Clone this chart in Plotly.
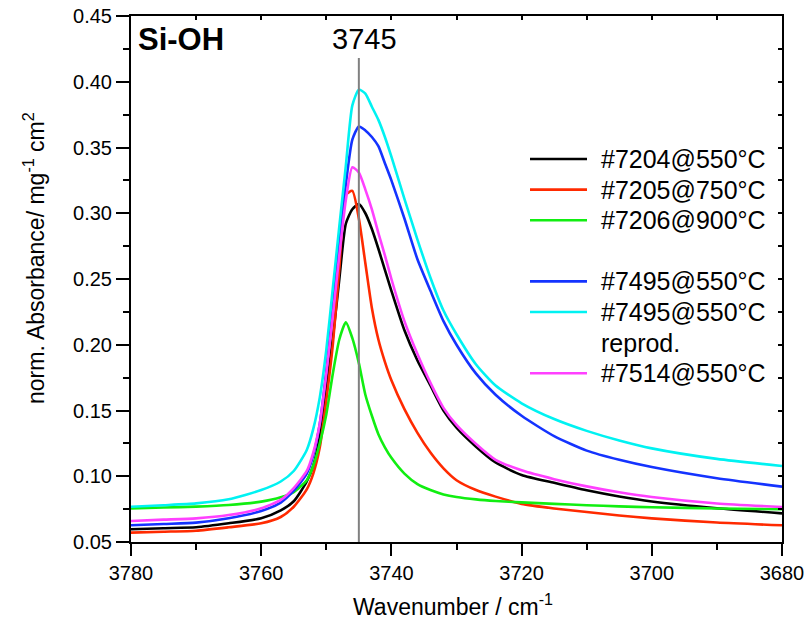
import plotly.graph_objects as go

# Si-OH stretching region, normalised absorbance
wavenumber = [3780, 3775, 3770, 3765, 3760, 3757, 3755, 3753, 3752, 3751,
              3750, 3749, 3748, 3747, 3746, 3745, 3744, 3743, 3742, 3741,
              3740, 3738, 3736, 3734, 3732, 3730, 3727, 3724, 3720, 3715,
              3710, 3705, 3700, 3690, 3680]

s7204_550 = [0.0597, 0.0605, 0.0612, 0.0642, 0.0680, 0.0740, 0.0810, 0.0960, 0.1080, 0.1300,
             0.1650, 0.2050, 0.2500, 0.2920, 0.3030, 0.3070, 0.3000, 0.2880, 0.2730, 0.2570,
             0.2410, 0.2110, 0.1880, 0.1690, 0.1500, 0.1370, 0.1225, 0.1105, 0.1010, 0.0950,
             0.0893, 0.0846, 0.0808, 0.0757, 0.0718]
s7205_750 = [0.0571, 0.0578, 0.0586, 0.0612, 0.0642, 0.0690, 0.0768, 0.0900, 0.1020, 0.1220,
             0.1580, 0.2000, 0.2580, 0.3140, 0.3170, 0.2960, 0.2620, 0.2280, 0.2040, 0.1870,
             0.1730, 0.1510, 0.1330, 0.1180, 0.1060, 0.0970, 0.0895, 0.0845, 0.0790, 0.0755,
             0.0728, 0.0702, 0.0680, 0.0648, 0.0627]
s7206_900 = [0.0756, 0.0762, 0.0769, 0.0781, 0.0807, 0.0840, 0.0880, 0.0970, 0.1080, 0.1250,
             0.1470, 0.1780, 0.2040, 0.2170, 0.2050, 0.1860, 0.1620, 0.1460, 0.1320, 0.1220,
             0.1140, 0.1020, 0.0940, 0.0895, 0.0862, 0.0842, 0.0824, 0.0812, 0.0801, 0.0790,
             0.0780, 0.0771, 0.0764, 0.0755, 0.0749]
s7495_550 = [0.0627, 0.0637, 0.0647, 0.0680, 0.0736, 0.0800, 0.0890, 0.1020, 0.1160, 0.1400,
             0.1800, 0.2280, 0.2780, 0.3220, 0.3560, 0.3660, 0.3630, 0.3580, 0.3510, 0.3380,
             0.3250, 0.2960, 0.2650, 0.2410, 0.2180, 0.2000, 0.1780, 0.1620, 0.1460, 0.1305,
             0.1195, 0.1125, 0.1070, 0.0985, 0.0921]
s7495_550_rep = [0.0768, 0.0780, 0.0794, 0.0825, 0.0895, 0.0960, 0.1040, 0.1200, 0.1360, 0.1600,
                 0.1960, 0.2430, 0.2900, 0.3360, 0.3820, 0.3940, 0.3910, 0.3810, 0.3710, 0.3580,
                 0.3430, 0.3110, 0.2800, 0.2510, 0.2260, 0.2080, 0.1850, 0.1690, 0.1555, 0.1435,
                 0.1345, 0.1272, 0.1212, 0.1132, 0.1078]
s7514_550 = [0.0660, 0.0670, 0.0680, 0.0705, 0.0756, 0.0820, 0.0910, 0.1040, 0.1180, 0.1400,
             0.1780, 0.2220, 0.2680, 0.3100, 0.3350, 0.3310, 0.3180, 0.3030, 0.2850, 0.2680,
             0.2500, 0.2180, 0.1930, 0.1710, 0.1520, 0.1390, 0.1245, 0.1125, 0.1045, 0.0978,
             0.0923, 0.0878, 0.0842, 0.0793, 0.0766]

series_names = ["#7204@550°C", "#7205@750°C", "#7206@900°C",
                "#7495@550°C", "#7495@550°C<br>reprod.", "#7514@550°C"]
series_values = [s7204_550, s7205_750, s7206_900, s7495_550, s7495_550_rep, s7514_550]
series_colors = ["#000000", "#ff2a00", "#11ee11", "#1433ff", "#00f2f2", "#ff40ff"]
legend_rows = [0, 1, 2, 4, 5, 7]   # row 3 left empty, row 6 holds "reprod."

band_position = 3745
x_ticks = [3780, 3760, 3740, 3720, 3700, 3680]
y_ticks = [0.05, 0.10, 0.15, 0.20, 0.25, 0.30, 0.35, 0.40, 0.45]

W, H = 807, 623
L, R, T, B = 131, 782, 16, 542
FONT = "Liberation Sans, Arial, sans-serif"


def pxx(p):
    return (p - L) / (R - L)


def pxy(p):
    return (B - p) / (B - T)


fig = go.Figure()
for name, ys, col in zip(series_names, series_values, series_colors):
    fig.add_trace(go.Scatter(x=wavenumber, y=ys, mode="lines", name=name,
                             line=dict(color=col, width=2.6, shape="spline",
                                       smoothing=0.6),
                             showlegend=False))

# empty trace so the top/right tick axes are drawn
fig.add_trace(go.Scatter(x=[None], y=[None], xaxis="x2", yaxis="y2",
                         showlegend=False, hoverinfo="skip"))

axis_common = dict(showgrid=False, zeroline=False, showline=True, automargin=False,
                   linecolor="black", linewidth=2, tickcolor="black", tickwidth=2)

fig.update_layout(
    width=W, height=H,
    margin=dict(l=L, r=W - R, t=T, b=H - B, pad=0, autoexpand=False),
    paper_bgcolor="white", plot_bgcolor="white",
    font=dict(family=FONT, color="black"),
    showlegend=False,
    xaxis=dict(range=[3780, 3680], autorange=False, tickvals=x_ticks,
               ticktext=[str(v) for v in x_ticks], ticks="outside", ticklen=12,
               tickfont=dict(size=20), mirror=True,
               minor=dict(dtick=10, tick0=3680, ticks="outside", ticklen=6,
                          tickwidth=2, tickcolor="black"),
               **axis_common),
    yaxis=dict(range=[0.05, 0.45], autorange=False, tickvals=y_ticks,
               ticktext=[f"{v:.2f}" for v in y_ticks], ticks="outside", ticklen=13,
               tickfont=dict(size=20), mirror=True,
               minor=dict(dtick=0.025, tick0=0.05, ticks="outside", ticklen=6,
                          tickwidth=2, tickcolor="black"),
               **axis_common),
    xaxis2=dict(range=[3780, 3680], autorange=False, overlaying="x", side="top",
                anchor="y2", dtick=10, tick0=3680, ticks="inside", ticklen=4,
                showticklabels=False, **axis_common),
    yaxis2=dict(range=[0.05, 0.45], autorange=False, overlaying="y", side="right",
                anchor="x2", dtick=0.025, tick0=0.05, ticks="inside", ticklen=4,
                showticklabels=False, **axis_common),
)

# marker line at the isolated silanol band
fig.add_shape(type="line", xref="x", yref="y", x0=band_position, x1=band_position,
              y0=0.05, y1=0.418, line=dict(color="#808080", width=2), layer="above")

annotations = [
    dict(text=str(band_position), xref="x", yref="paper", x=band_position, xshift=6,
         y=pxy(39), xanchor="center", yanchor="middle", showarrow=False,
         font=dict(size=29)),
    dict(text="<b>Si-OH</b>", xref="paper", yref="paper", x=pxx(136), y=pxy(40),
         xanchor="left", yanchor="middle", showarrow=False, font=dict(size=31)),
    dict(text="Wavenumber / cm<sup>-1</sup>", xref="paper", yref="paper",
         x=pxx(453), y=pxy(605), xanchor="center", yanchor="middle",
         showarrow=False, font=dict(size=23)),
    dict(text="norm. Absorbance/ mg<sup>-1</sup> cm<sup>2</sup>", xref="paper",
         yref="paper", x=pxx(34), y=pxy(258), xanchor="center", yanchor="middle",
         textangle=-90, showarrow=False, font=dict(size=23)),
]

# legend block
row0, pitch = 159, 30.6
for name, col, row in zip(series_names, series_colors, legend_rows):
    yc = row0 + row * pitch
    fig.add_shape(type="line", xref="paper", yref="paper", x0=pxx(530), x1=pxx(587),
                  y0=pxy(yc), y1=pxy(yc), line=dict(color=col, width=2.6))
    for k, part in enumerate(name.split("<br>")):
        annotations.append(dict(text=part, xref="paper", yref="paper", x=pxx(599),
                                y=pxy(yc + k * pitch), xanchor="left", yanchor="middle",
                                showarrow=False, font=dict(size=25)))

fig.update_layout(annotations=annotations)
fig.write_html("out.html")
